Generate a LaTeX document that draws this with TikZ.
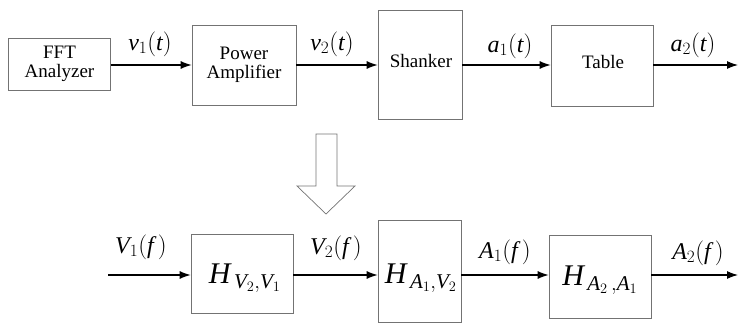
\documentclass[tikz,border=0pt]{standalone}
\usepackage{fontspec}
\setmainfont{Liberation Serif}
\usetikzlibrary{arrows.meta}
\newcommand\mi[1]{\mathit{#1}}
\begin{document}
\begin{tikzpicture}[x=1pt,y=-1pt,
  blk/.style={draw=black!55, line width=0.7pt, inner sep=0pt, align=center, font=\fontsize{19}{19}\selectfont},
  sig/.style={draw=black, line width=1.1pt, -{Latex[length=11pt,width=8pt]}},
  lab/.style={inner sep=0pt, font=\fontsize{24}{26}\selectfont},
  hlab/.style={inner sep=0pt, font=\fontsize{30}{32}\selectfont}]
\useasboundingbox (0,0) rectangle (738,324);
% top row
\node[blk, minimum width=102pt, minimum height=52pt] (fft) at (59.5,64) {FFT\\Analyzer};
\node[blk, minimum width=104pt, minimum height=80pt] (amp) at (244,65) {Power\\Amplifier};
\node[blk, minimum width=84pt, minimum height=109pt] (shk) at (420,64.5) {};
\node[inner sep=0pt, font=\fontsize{19}{21}\selectfont] (shkt) at (421,61) {Shanker};
\node[blk, minimum width=102pt, minimum height=81pt] (tbl) at (602,65.5) {};
\node[inner sep=0pt, font=\fontsize{19}{21}\selectfont] (tblt) at (603,62) {Table};
\coordinate (yt) at (0,65);
\coordinate (out1) at (738,65);
\draw[sig] (fft.east |- yt) -- (amp.west |- yt);
\draw[sig] (amp.east |- yt) -- (shk.west |- yt);
\draw[sig] (shk.east |- yt) -- (tbl.west |- yt);
\draw[sig] (tbl.east |- yt) -- (out1);
\node[lab] (l1) at (150,44) {$\mi{v}_{1}(\mi{t})$};
\node[lab] (l2) at (332,44) {$\mi{v}_{2}(\mi{t})$};
\node[lab] (l3) at (510,46) {$\mi{a}_{1}(\mi{t})$};
\node[lab] (l4) at (693,45) {$\mi{a}_{2}(\mi{t})$};
% hollow arrow
\draw[draw=black!55, line width=0.7pt] (316,134) -- (337,134) -- (337,186) -- (355,186) -- (326,214) -- (297,186) -- (316,186) -- cycle;
% bottom row
\node[blk, minimum width=102pt, minimum height=79pt] (h1) at (242,273.5) {};
\node[blk, minimum width=83pt, minimum height=102pt] (h2) at (419.5,271) {};
\node[blk, minimum width=102pt, minimum height=83pt] (h3) at (600,276.5) {};
\node[hlab] (h1t) at (245,278) {$\mi{H}_{\,\mi{V}_2,\mi{V}_1}$};
\node[hlab] (h2t) at (421,278) {$\mi{H}_{\,\mi{A}_1,\mi{V}_2}$};
\node[hlab] (h3t) at (600,280) {$\mi{H}_{\,\mi{A}_2\,,\mi{A}_1}$};
\coordinate (yb) at (0,275);
\coordinate (in) at (108,275);
\coordinate (out2) at (738,275);
\draw[sig] (in) -- (h1.west |- yb);
\draw[sig] (h1.east |- yb) -- (h2.west |- yb);
\draw[sig] (h2.east |- yb) -- (h3.west |- yb);
\draw[sig] (h3.east |- yb) -- (out2);
\node[lab] (m1) at (141,247) {$\mi{V}_{1}(\mi{f}\,)$};
\node[lab] (m2) at (336,248) {$\mi{V}_{2}(\mi{f}\,)$};
\node[lab] (m3) at (505,252) {$\mi{A}_{1}(\mi{f}\,)$};
\node[lab] (m4) at (698,253) {$\mi{A}_{2}(\mi{f}\,)$};
\end{tikzpicture}
\end{document}
